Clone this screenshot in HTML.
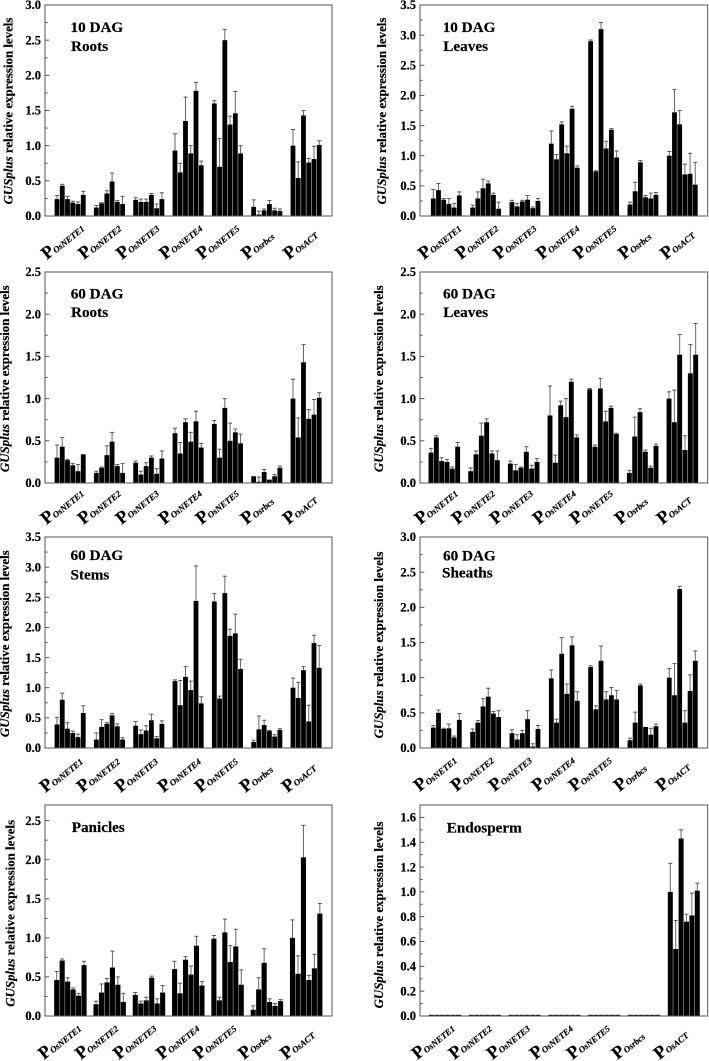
<!DOCTYPE html>
<html lang="en">
<head>
<meta charset="utf-8">
<title>GUSplus relative expression levels</title>
<style>
html,body{margin:0;padding:0;background:#fff;}
#figure{display:block;width:709px;height:1061px;filter:blur(0.3px);}
text{font-family:"Liberation Serif",serif;font-weight:bold;fill:#000;stroke:#000;stroke-width:.2px;}
</style>
</head>
<body>
<svg id="figure" xmlns="http://www.w3.org/2000/svg" width="709" height="1061" viewBox="0 0 709 1061"></svg>
<script>
const categories = ['OsNETE1','OsNETE2','OsNETE3','OsNETE4','OsNETE5','Osrbcs','OsACT'];

const roots10Values = [[.24,.43,.24,.19,.17,.30],[.12,.18,.32,.49,.20,.17],[.23,.20,.20,.30,.11,.24],[.93,.62,1.35,.89,1.78,.72],[1.60,.70,2.50,1.30,1.46,.89],[.13,.02,.08,.17,.08,.07],[1.0,.54,1.43,.76,.81,1.01]];
const roots10Tops = [[.29,.45,.28,.21,.20,.35],[.15,.19,.36,.61,.22,.28],[.26,.24,.24,.32,.17,.33],[1.17,.75,1.69,1.0,1.90,.78],[1.64,1.10,2.65,1.42,1.77,1.0],[.23,.07,.10,.22,.11,.10],[1.23,.77,1.50,.82,.99,1.07]];

const leaves10Values = [[.29,.43,.27,.20,.14,.34],[.14,.29,.46,.54,.35,.12],[.23,.16,.24,.27,.13,.25],[1.2,.94,1.52,1.04,1.78,.80],[2.9,.74,3.1,1.12,1.43,.97],[.19,.41,.89,.31,.29,.35],[1.0,1.72,1.52,.69,.70,.52]];
const leaves10Tops = [[.44,.54,.29,.29,.21,.40],[.18,.40,.61,.58,.38,.23],[.26,.21,.26,.34,.15,.29],[1.41,1.02,1.56,1.16,1.82,.83],[2.92,.75,3.21,1.24,1.45,1.08],[.23,.56,.92,.34,.38,.39],[1.07,2.1,1.75,.86,1.04,.89]];

const roots60Values = [[.30,.43,.27,.21,.14,.34],[.12,.18,.33,.49,.20,.12],[.24,.10,.20,.30,.11,.29],[.59,.35,.72,.49,.73,.42],[.70,.30,.89,.50,.60,.47],[.08,.01,.13,.04,.08,.18],[1.0,.54,1.43,.76,.81,1.01]];
const roots60Tops = [[.45,.54,.28,.23,.22,.34],[.14,.19,.44,.60,.22,.23],[.26,.14,.24,.32,.17,.38],[.65,.48,.76,.60,.85,.47],[.74,.40,1.0,.71,.64,.58],[.08,.07,.16,.04,.10,.20],[1.23,.77,1.64,.87,.99,1.07]];

const leaves60Values = [[.36,.54,.26,.25,.17,.43],[.14,.34,.56,.72,.35,.27],[.23,.15,.18,.37,.17,.25],[.80,.24,.92,.78,1.20,.54],[1.11,.43,1.12,.73,.89,.58],[.12,.55,.84,.37,.18,.44],[1.0,.72,1.52,.39,1.30,1.52]];
const leaves60Tops = [[.41,.56,.30,.28,.19,.48],[.18,.38,.71,.76,.38,.38],[.26,.22,.19,.43,.21,.29],[1.15,.33,.97,1.0,1.23,.57],[1.12,.45,1.24,.85,.91,.59],[.15,.78,.88,.39,.20,.46],[1.08,1.10,1.76,.56,1.64,1.89]];

const stems60Values = [[.39,.80,.32,.25,.18,.58],[.14,.35,.40,.54,.36,.14],[.37,.23,.29,.46,.16,.40],[1.11,.71,1.18,.96,2.44,.74],[2.43,.82,2.57,1.86,1.90,1.31],[.10,.31,.38,.28,.19,.30],[1.0,.83,1.29,.44,1.74,1.33]];
const stems60Tops = [[.51,.91,.42,.28,.23,.70],[.25,.47,.42,.57,.40,.17],[.44,.30,.37,.56,.19,.45],[1.13,1.12,1.35,1.11,3.02,.85],[2.56,.86,2.85,1.97,2.22,1.47],[.13,.53,.46,.29,.22,.32],[1.16,1.09,1.35,.71,1.87,1.70]];

const sheaths60Values = [[.29,.50,.27,.28,.15,.40],[.23,.36,.59,.73,.49,.44],[.21,.12,.21,.41,.02,.27],[.99,.36,1.34,.77,1.46,.67],[1.15,.55,1.24,.69,.75,.69],[.11,.36,.89,.30,.19,.31],[1.0,.75,2.26,.36,.81,1.24]];
const sheaths60Tops = [[.32,.54,.28,.34,.17,.49],[.27,.39,.70,.85,.52,.53],[.26,.19,.25,.53,.06,.32],[1.11,.41,1.57,.91,1.58,.80],[1.17,.60,1.45,.80,.86,.82],[.14,.51,.91,.30,.28,.34],[1.13,1.20,2.30,.53,1.04,1.38]];

const paniclesValues = [[.46,.71,.44,.34,.26,.65],[.15,.30,.43,.62,.40,.18],[.27,.16,.20,.49,.16,.30],[.60,.29,.72,.53,.90,.39],[.99,.20,1.07,.69,.89,.40],[.08,.34,.68,.18,.13,.19],[1.0,.54,2.03,.46,.61,1.31]];
const paniclesTops = [[.57,.73,.49,.36,.29,.70],[.19,.41,.48,.83,.50,.29],[.30,.19,.24,.51,.22,.39],[.70,.42,.76,.64,1.02,.44],[1.03,.24,1.24,.90,1.11,.59],[.13,.49,.86,.22,.16,.21],[1.23,.77,2.44,.52,.79,1.44]];

const endospermValues = [[0,0,0,0,0,0],[0,0,0,0,0,0],[0,0,0,0,0,0],[0,0,0,0,0,0],[0,0,0,0,0,0],[0,0,0,0,0,0],[1.0,.54,1.43,.76,.81,1.01]];
const endospermTops = [[0,0,0,0,0,0],[0,0,0,0,0,0],[0,0,0,0,0,0],[0,0,0,0,0,0],[0,0,0,0,0,0],[0,0,0,0,0,0],[1.23,.77,1.50,.82,.99,1.07]];

const yMaxes = [3.0,3.5,2.5,2.5,3.5,3.0,2.7,1.7];
const majorSteps = [.5,.5,.5,.5,.5,.5,.5,.2];
const panelNames = ['roots-10-dag','leaves-10-dag','roots-60-dag','leaves-60-dag','stems-60-dag','sheaths-60-dag','panicles','endosperm'];
const panelValues = [roots10Values,leaves10Values,roots60Values,leaves60Values,stems60Values,sheaths60Values,paniclesValues,endospermValues];
const panelTops = [roots10Tops,leaves10Tops,roots60Tops,leaves60Tops,stems60Tops,sheaths60Tops,paniclesTops,endospermTops];

const layouts = [
 {l:45,r:332,t:5,b:216,x0:12,st:5.25,gs:39.33,w:4.8,lx:12.7,ly:111,shift:-3.5,lb:44,notes:[['10 DAG',70.5,32],['Roots',71,51]]},
 {l:420,r:707.7,t:5,b:216,x0:13.3,st:5.2,gs:39.33,w:4.8,lx:386,ly:111,shift:-1.5,lb:44,notes:[['10 DAG',442.7,32],['Leaves',443.3,51]]},
 {l:45,r:332,t:272,b:483,x0:12,st:5.25,gs:39.33,w:4.8,lx:9,ly:378.7,shift:-4,lb:42,notes:[['60 DAG',70.7,298.7],['Roots',71,317]]},
 {l:420,r:707.7,t:272,b:483,x0:11,st:5.33,gs:39.67,w:4.9,lx:383,ly:378.7,shift:-5,lb:42,notes:[['60 DAG',443,298.7],['Leaves',443.3,317]]},
 {l:45,r:332,t:537,b:748,x0:12,st:5.25,gs:39.33,w:4.8,lx:9,ly:643.7,shift:-5,lb:45,notes:[['60 DAG',70.5,560],['Stems',70.5,579.7]]},
 {l:420,r:707.7,t:537,b:748,x0:13.3,st:5.2,gs:39.33,w:4.8,lx:383,ly:645,shift:-6,lb:44,notes:[['60 DAG',443,560.7],['Sheaths',442,577.7]]},
 {l:45,r:332,t:805,b:1016,x0:11.7,st:5.47,gs:39.3,w:5.1,lx:14.5,ly:913.3,shift:-6.5,lb:44,notes:[['Panicles',71.7,832]]},
 {l:420,r:707.7,t:805,b:1016,x0:11.5,st:5.4,gs:39.8,w:5,lx:383,ly:915,shift:-8,lb:44,notes:[['Endosperm',446.7,832.7]]}
];
const labelStarts = [0,37,75,118,155,200,242];

const svg = document.getElementById('figure');
const NS = 'http://www.w3.org/2000/svg';
function make(tag, parent, attrs){
  const el = document.createElementNS(NS, tag);
  for (const k in attrs) el.setAttribute(k, attrs[k]);
  parent.appendChild(el);
  return el;
}

layouts.forEach(function(p, pi){
  const g = make('g', svg, {});
  
  
  const yMax = yMaxes[pi];
  const yScale = function(v){ return p.b - (v / yMax) * (p.b - p.t); };
  const xScale = function(gi, bi){ return p.l + p.x0 + gi * p.gs + bi * p.st; };

  panelValues[pi].forEach(function(series, gi){
    series.forEach(function(v, bi){
      const cx = xScale(gi, bi);
      const top = panelTops[pi][gi][bi];
      if (top > v) {
        const stem = make('line', g, {x1:cx, x2:cx, y1:yScale(v), y2:yScale(top), stroke:'#666', 'stroke-width':1});
        
        
        const cap = make('line', g, {x1:cx-2, x2:cx+2, y1:yScale(top), y2:yScale(top), stroke:'#555', 'stroke-width':1});
        
        
      }
      const h = Math.max(p.b - yScale(v), 1.2);
      const bar = make('rect', g, {x:cx-p.w/2, y:p.b-h, width:p.w, height:h, fill:'#000'});
      
      
    });
  });

  const frame = make('rect', g, {x:p.l, y:p.t, width:p.r-p.l, height:p.b-p.t, fill:'none', stroke:'#555', 'stroke-width':1});
  
  

  const major = majorSteps[pi];
  const nMinor = Math.floor(yMax / (major / 2) + 1e-6);
  for (let i = 0; i <= nMinor; i++) {
    const v = i * major / 2;
    const isMajor = i % 2 === 0;
    const y = yScale(v);
    const tick = make('line', g, {x1:p.l, x2:p.l + (isMajor ? 4.3 : 2.6), y1:y, y2:y, stroke:'#555', 'stroke-width':1});
    
    
    if (isMajor) {
      const t = make('text', g, {x:p.l-4, y:y+4.2, 'text-anchor':'end', 'font-size':12.5});
      
      
      t.textContent = v.toFixed(1);
    }
  }

  const title = make('text', g, {transform:'translate(' + p.lx + ',' + p.ly + ') rotate(-90)', 'text-anchor':'middle', 'font-size':12.9});
  
  
  const it = make('tspan', title, {'font-style':'italic'});
  it.textContent = 'GUSplus';
  const rest = make('tspan', title, {});
  rest.textContent = ' relative expression levels';

  p.notes.forEach(function(n){
    const t = make('text', g, {x:n[1], y:n[2], 'font-size':15.2});
    
    
    t.textContent = n[0];
  });

  categories.forEach(function(c, gi){
    const x = p.l + labelStarts[gi] + p.shift + 5.5;
    const y = p.b + p.lb;
    const t = make('text', g, {transform:'translate(' + x + ',' + y + ') rotate(-39)', 'font-size':18});
    
    
    const big = make('tspan', t, {});
    big.textContent = 'P';
    const sub = make('tspan', t, {'font-size':8.8, 'font-style':'italic', dy:0.5});
    sub.textContent = c;
  });
});
</script>
</body>
</html>
